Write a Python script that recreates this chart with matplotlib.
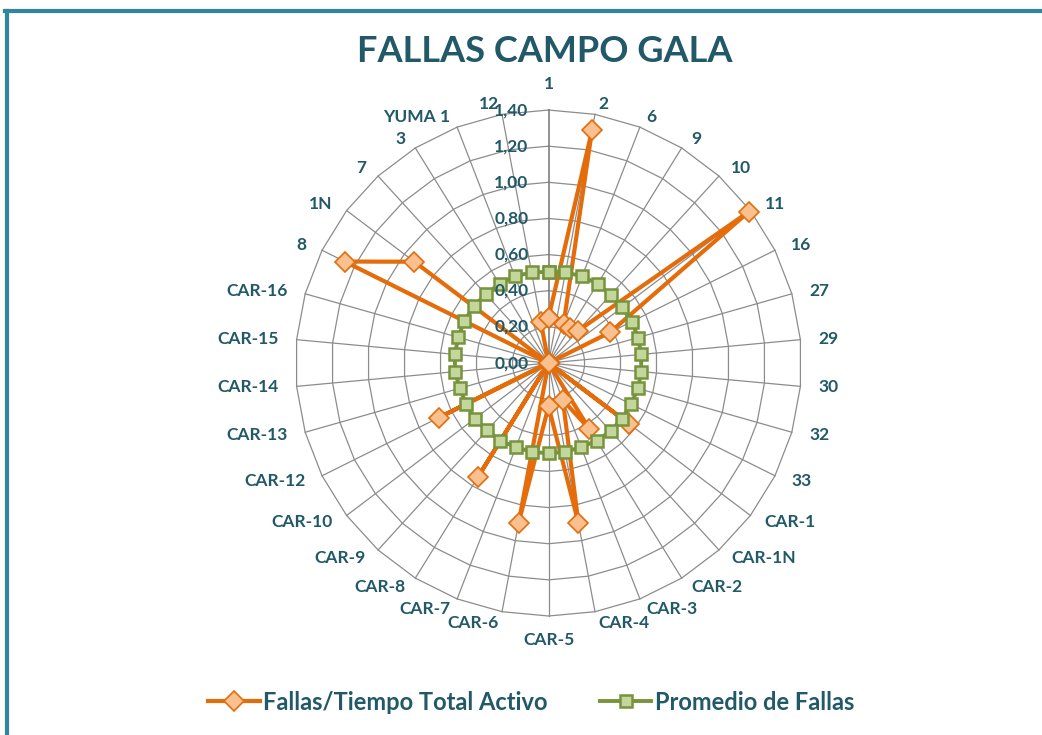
import numpy as np
import matplotlib.pyplot as plt
from matplotlib.lines import Line2D

# category order, clockwise from the top
categories = ['1', '2', '6', '9', '10', '11', '16', '27', '29', '30', '32', '33',
              'CAR-1', 'CAR-1N', 'CAR-2', 'CAR-3', 'CAR-4', 'CAR-5', 'CAR-6', 'CAR-7',
              'CAR-8', 'CAR-9', 'CAR-10', 'CAR-12', 'CAR-13', 'CAR-14', 'CAR-15', 'CAR-16',
              '8', '1N', '7', '3', 'YUMA 1', '12']

fallas_tiempo = [0.25, 1.31, 0.23, 0.23, 0.24, 1.39, 0.38, 0.0, 0.0, 0.0, 0.0, 0.0,
                 0.56, 0.0, 0.43, 0.22, 0.90, 0.24, 0.90, 0.0,
                 0.74, 0.0, 0.0, 0.68, 0.0, 0.0, 0.0, 0.0,
                 1.26, 0.93, 0.0, 0.0, 0.0, 0.23]

promedio = [0.505, 0.51, 0.515, 0.515, 0.51, 0.51, 0.515, 0.515, 0.515, 0.515, 0.515, 0.51,
            0.51, 0.51, 0.505, 0.50, 0.50, 0.50, 0.50, 0.50,
            0.505, 0.505, 0.51, 0.51, 0.51, 0.52, 0.52, 0.52,
            0.52, 0.52, 0.515, 0.515, 0.515, 0.51]

r_ticks = [0.0, 0.2, 0.4, 0.6, 0.8, 1.0, 1.2, 1.4]
r_labels = ['0,00', '0,20', '0,40', '0,60', '0,80', '1,00', '1,20', '1,40']

TEXT = '#215968'
ORANGE, ORANGE_FILL = '#E46C0A', '#FAC090'
GREEN, GREEN_FILL = '#77933C', '#C3D69B'
GRID = '#8C8C8C'

plt.rcParams['font.family'] = ['Lato', 'DejaVu Sans']

fig = plt.figure(figsize=(10.42, 7.35), dpi=100)
ax = fig.add_axes([0.2836, 0.1619, 0.4856, 0.6884], projection='polar')
ax.set_theta_zero_location('N')
ax.set_theta_direction(-1)
ax.set_ylim(0, r_ticks[-1])
ax.grid(False)
ax.spines['polar'].set_visible(False)
ax.set_xticks([])
ax.set_yticks([])

n = len(categories)
theta = np.arange(n) * 2 * np.pi / n
closed = np.append(theta, theta[0])

# polygon gridlines like excel's radar chart
for r in r_ticks[1:]:
    ax.plot(closed, [r] * (n + 1), color=GRID, lw=0.9, zorder=1, clip_on=False)
for i, t in enumerate(theta):
    ax.plot([t, t], [0, r_ticks[-1]], color='#7F7F7F' if i == 0 else GRID,
            lw=1.2 if i == 0 else 0.9, zorder=1, clip_on=False)

ax.plot(closed, np.append(fallas_tiempo, fallas_tiempo[0]), color=ORANGE, lw=3,
        marker='D', ms=10, mfc=ORANGE_FILL, mec=ORANGE, mew=1.2, zorder=3, clip_on=False)
ax.plot(closed, np.append(promedio, promedio[0]), color=GREEN, lw=2.8,
        marker='s', ms=9, mfc=GREEN_FILL, mec=GREEN, mew=1.8, zorder=4, clip_on=False)

for r, lab in zip(r_ticks, r_labels):
    ax.annotate(lab, xy=(0, r), xytext=(-20, 0), textcoords='offset pixels',
                ha='right', va='center', fontsize=12.5, fontweight='bold',
                color=TEXT, zorder=10, annotation_clip=False)

for t, lab in zip(theta, categories):
    s, c = np.sin(t), np.cos(t)
    if abs(s) < 0.01:
        off = (0, 18 if c > 0 else -16)
        ha, va = 'center', ('bottom' if c > 0 else 'top')
    else:
        off = (18 * s, 11 * c)
        ha, va = ('left' if s > 0 else 'right'), 'center'
    ax.annotate(lab, xy=(t, r_ticks[-1]), xytext=off, textcoords='offset pixels',
                ha=ha, va=va, fontsize=12.5, fontweight='bold', color=TEXT,
                annotation_clip=False)

fig.text(545 / 1042, 1 - 52 / 735, 'FALLAS CAMPO GALA', ha='center', va='center',
         fontsize=26, fontweight='bold', color=TEXT)

handles = [Line2D([], [], color=ORANGE, lw=3, marker='D', ms=10, mfc=ORANGE_FILL,
                  mec=ORANGE, mew=1.2),
           Line2D([], [], color=GREEN, lw=2.8, marker='s', ms=9, mfc=GREEN_FILL,
                  mec=GREEN, mew=1.8)]
fig.legend(handles, ['Fallas/Tiempo Total Activo', 'Promedio de Fallas'],
           loc='center', bbox_to_anchor=(531 / 1042, 1 - 702 / 735), ncol=2, frameon=False,
           prop={'size': 17, 'weight': 'bold'}, handlelength=2.2, handletextpad=0.15,
           columnspacing=2.2, labelcolor=TEXT)

# frame on the top and left edges
fig.add_artist(Line2D([5 / 1042, 1], [1 - 11 / 735, 1 - 11 / 735],
                      transform=fig.transFigure, color='#31859C', lw=3))
fig.add_artist(Line2D([7 / 1042, 7 / 1042], [0, 1 - 11 / 735],
                      transform=fig.transFigure, color='#31859C', lw=3))

fig.savefig('out.png', dpi=100)
